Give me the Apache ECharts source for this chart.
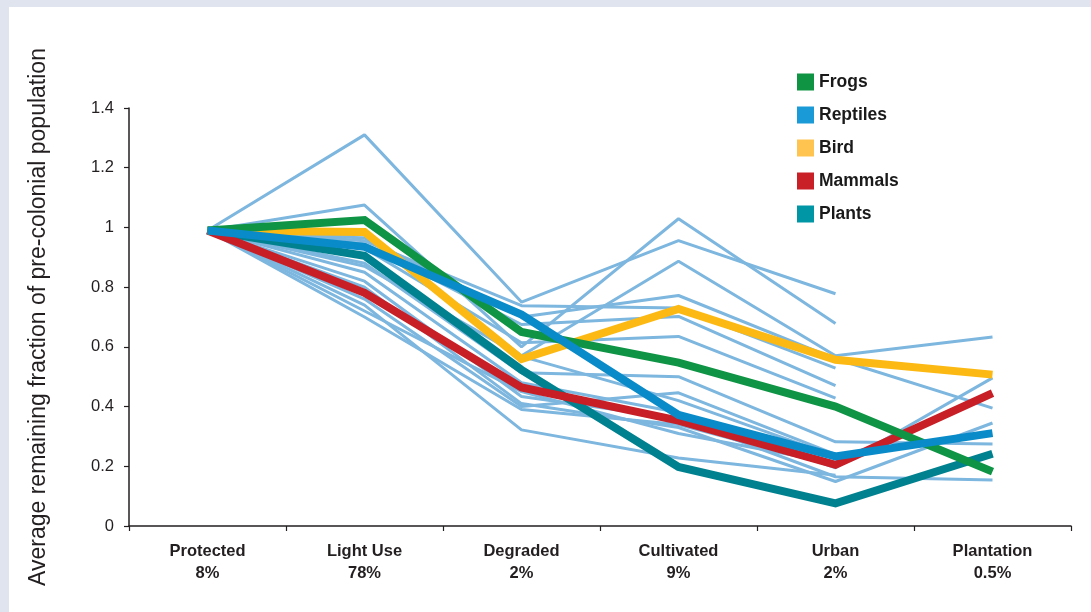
<!DOCTYPE html>
<html>
<head>
<meta charset="utf-8">
<script src="https://cdn.jsdelivr.net/npm/echarts@6/dist/echarts.min.js"></script>
<style>
html,body{margin:0;padding:0;width:1091px;height:612px;background:#dfe4ef;overflow:hidden;}
#chart{position:absolute;left:9px;top:7px;width:1082px;height:605px;background:#ffffff;}
</style>
</head>
<body>
<div id="chart"></div>
<script>
const categories = ['Protected', 'Light Use', 'Degraded', 'Cultivated', 'Urban', 'Plantation'];
const shares = ['8%', '78%', '2%', '9%', '2%', '0.5%'];
const yTicks = [0, 0.2, 0.4, 0.6, 0.8, 1, 1.2, 1.4];

const frogs    = [0.99, 1.025, 0.65, 0.547, 0.40, 0.182];
const reptiles = [0.99, 0.935, 0.708, 0.372, 0.233, 0.311];
const bird     = [0.99, 0.985, 0.559, 0.727, 0.557, 0.507];
const mammals  = [0.99, 0.781, 0.464, 0.353, 0.205, 0.445];
const plants   = [0.99, 0.905, 0.523, 0.198, 0.076, 0.242];

const thin1  = [0.99, 1.31, 0.75, 0.956, 0.778, null];
const thin2  = [0.99, 1.075, 0.60, 1.029, 0.678, null];
const thin3  = [0.99, 0.975, 0.57, 0.887, 0.57, 0.633];
const thin4  = [0.99, 0.965, 0.70, 0.772, 0.56, 0.395];
const thin5  = [0.99, 0.955, 0.738, 0.73, 0.529, null];
const thin6  = [0.99, 0.945, 0.675, 0.702, 0.47, null];
const thin7  = [0.99, 0.93, 0.614, 0.635, 0.428, null];
const thin8  = [0.99, 0.88, 0.513, 0.50, 0.282, 0.275];
const thin9  = [0.99, 0.87, 0.568, 0.42, 0.233, null];
const thin10 = [0.99, 0.85, 0.48, 0.38, 0.195, 0.496];
const thin11 = [0.99, 0.82, 0.434, 0.36, 0.165, 0.154];
const thin12 = [0.99, 0.80, 0.41, 0.33, 0.149, 0.345];
const thin13 = [0.99, 0.76, 0.40, 0.446, 0.24, null];
const thin14 = [0.99, 0.74, 0.322, 0.228, 0.17, null];
const thin15 = [0.99, 0.72, 0.45, 0.31, 0.21, null];
const thin16 = [0.99, 0.70, 0.39, 0.34, 0.20, null];

const thinLines = [thin1, thin2, thin3, thin4, thin5, thin6, thin7, thin8,
                   thin9, thin10, thin11, thin12, thin13, thin14, thin15, thin16];

const thickSeries = [
  {name: 'Plants',   data: plants,   color: '#00818f', legend: '#0096a6'},
  {name: 'Mammals',  data: mammals,  color: '#c81e26', legend: '#c91f26'},
  {name: 'Bird',     data: bird,     color: '#fdb913', legend: '#fec44f'},
  {name: 'Frogs',    data: frogs,    color: '#0e9444', legend: '#0f9444'},
  {name: 'Reptiles', data: reptiles, color: '#0a8bc9', legend: '#1a9ad6'}
];
const legendOrder = ['Frogs', 'Reptiles', 'Bird', 'Mammals', 'Plants'];

const chart = echarts.init(document.getElementById('chart'), null, {renderer: 'canvas'});

const series = [];
thinLines.forEach((d, i) => {
  series.push({
    name: 'thin' + (i + 1), type: 'line', data: d, symbol: 'none',
    lineStyle: {color: '#7db6de', width: 3}, z: 2, silent: true,
    connectNulls: false
  });
});
thickSeries.forEach((s, i) => {
  series.push({
    name: s.name, type: 'line', data: s.data, symbol: 'none',
    itemStyle: {color: s.legend},
    lineStyle: {color: s.color, width: 8, join: 'miter'}, z: 3 + i, silent: true
  });
});

const labelText = categories.map((c, i) => c + '\n' + shares[i]);

chart.setOption({
  animation: false,
  grid: {left: 120, right: 20, top: 101, bottom: 86, containLabel: false},
  legend: {
    data: legendOrder.map(n => {
      const s = thickSeries.find(t => t.name === n);
      return {name: n, itemStyle: {color: s.legend}};
    }),
    orient: 'vertical', left: 783, top: 61,
    icon: 'rect', itemWidth: 17, itemHeight: 17, itemGap: 15,
    selectedMode: false,
    textStyle: {fontFamily: 'Liberation Sans', fontWeight: 'bold', fontSize: 17.5, color: '#1a1a1a'}
  },
  xAxis: {
    type: 'category', data: labelText, boundaryGap: true,
    axisLine: {show: true, lineStyle: {color: '#231f20', width: 1.5}},
    axisTick: {show: true, length: 5, lineStyle: {color: '#231f20', width: 1.2}},
    axisLabel: {margin: 14, fontFamily: "'Liberation Sans Narrow', 'Liberation Sans', sans-serif", fontWeight: 'bold',
                fontSize: 16.5, lineHeight: 22, color: '#231f20', interval: 0},
    splitLine: {show: false}
  },
  yAxis: {
    type: 'value', min: 0, max: 1.4, interval: 0.2,
    name: 'Average remaining fraction of pre-colonial population',
    nameLocation: 'middle', nameRotate: 90, nameGap: 79,
    nameTextStyle: {fontFamily: 'Liberation Sans', fontSize: 23, color: '#231f20'},
    axisLine: {show: true, lineStyle: {color: '#231f20', width: 1.5}},
    axisTick: {show: true, length: 5, lineStyle: {color: '#231f20', width: 1.2}},
    axisLabel: {margin: 15, fontFamily: 'Liberation Sans', fontSize: 16.5, color: '#231f20',
                formatter: v => {
                  const t = yTicks.find(k => Math.abs(k - v) < 1e-6);
                  return t === undefined ? '' : String(t);
                }},
    splitLine: {show: false}
  },
  series: series
});
</script>
</body>
</html>
